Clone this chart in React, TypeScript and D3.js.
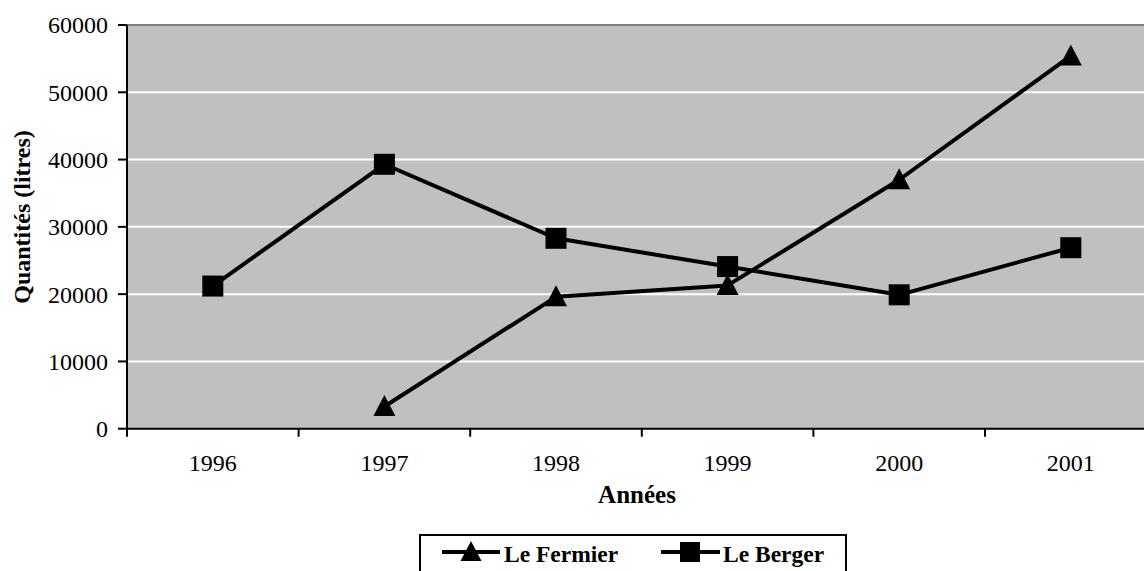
import React from "react";
import * as d3 from "d3";

const years = ["1996", "1997", "1998", "1999", "2000", "2001"];
const fermier: (number | null)[] = [null, 3300, 19600, 21300, 37000, 55400];
const berger: (number | null)[] = [21200, 39300, 28300, 24100, 19900, 26900];
const yTicks = [0, 10000, 20000, 30000, 40000, 50000, 60000];

const W = 1144;
const H = 571;
const left = 127;
const top = 25;
const bottom = 428.7;
const bandW = 171.6;
const right = left + bandW * years.length;
const FONT = '"Liberation Serif", "DejaVu Serif", "Times New Roman", serif';

export default function App() {
  const x = d3.scaleBand<string>().domain(years).range([left, right]).padding(0);
  const y = d3.scaleLinear().domain([0, 60000]).range([bottom, top]);
  const cx = (i: number) => (x(years[i]) as number) + x.bandwidth() / 2;

  const line = d3
    .line<number | null>()
    .defined((d) => d !== null)
    .x((_, i) => cx(i))
    .y((d) => y(d as number));

  const tri = (w: number, h: number) => `M0,${-h / 2 - 1}L${w / 2},${h / 2 - 1}L${-w / 2},${h / 2 - 1}Z`;
  const sq = (s: number) => `M${-s / 2},${-s / 2}h${s}v${s}h${-s}z`;
  const txt: React.CSSProperties = { fontFamily: FONT };

  return (
    <svg
      width={W}
      height={H}
      style={{ position: "absolute", left: 0, top: 0, display: "block", fontFamily: FONT }}
    >
      <rect x={0} y={0} width={W} height={H} fill="#fff" />
      <rect x={left} y={top} width={right - left} height={bottom - top} fill="#c0c0c0" />
      <line x1={left} x2={right} y1={top} y2={top} stroke="#808080" strokeWidth={2} />
      {yTicks.slice(1, -1).map((t) => (
        <line key={t} x1={left} x2={right} y1={y(t)} y2={y(t)} stroke="#fff" strokeWidth={2} />
      ))}
      {/* axes */}
      <line x1={left} x2={left} y1={top} y2={bottom} stroke="#000" strokeWidth={2} />
      <line x1={left - 1} x2={right} y1={bottom} y2={bottom} stroke="#000" strokeWidth={2} />
      {yTicks.map((t) => (
        <g key={t}>
          <line x1={left - 9} x2={left} y1={y(t)} y2={y(t)} stroke="#000" strokeWidth={2} />
          <text x={left - 19} y={y(t)} dy="0.35em" textAnchor="end" fontSize={24} fill="#000" style={txt}>
            {t}
          </text>
        </g>
      ))}
      {years.map((yr, i) => (
        <g key={yr}>
          <line
            x1={x(yr) as number}
            x2={x(yr) as number}
            y1={bottom}
            y2={bottom + 8}
            stroke="#000"
            strokeWidth={2}
          />
          <text x={cx(i)} y={471} textAnchor="middle" fontSize={24} fill="#000" style={txt}>
            {yr}
          </text>
        </g>
      ))}
      <text x={637} y={503} textAnchor="middle" fontSize={25} fontWeight="bold" fill="#000" style={txt}>
        Années
      </text>
      <text
        transform={`translate(30,217) rotate(-90)`}
        textAnchor="middle"
        fontSize={24}
        fontWeight="bold"
        fill="#000"
        style={txt}
      >
        Quantités (litres)
      </text>
      {/* series */}
      <path d={line(berger) || ""} fill="none" stroke="#000" strokeWidth={4} strokeLinejoin="round" />
      <path d={line(fermier) || ""} fill="none" stroke="#000" strokeWidth={4} strokeLinejoin="round" />
      {berger.map((v, i) =>
        v === null ? null : (
          <path key={"b" + i} d={sq(21)} transform={`translate(${cx(i)},${y(v)})`} fill="#000" />
        )
      )}
      {fermier.map((v, i) =>
        v === null ? null : (
          <path key={"f" + i} d={tri(22, 21)} transform={`translate(${cx(i)},${y(v)})`} fill="#000" />
        )
      )}
      {/* legend */}
      <rect x={420} y={535} width={426} height={50} fill="#fff" stroke="#000" strokeWidth={2} />
      <line x1={442} x2={500} y1={552} y2={552} stroke="#000" strokeWidth={4} />
      <path d={tri(21, 20)} transform={`translate(471,552)`} fill="#000" />
      <text x={504} y={562} fontSize={23.5} fontWeight="bold" fill="#000" style={txt}>
        Le Fermier
      </text>
      <line x1={661} x2={720} y1={552} y2={552} stroke="#000" strokeWidth={4} />
      <path d={sq(20)} transform={`translate(690,552)`} fill="#000" />
      <text x={723} y={562} fontSize={23.5} fontWeight="bold" fill="#000" style={txt}>
        Le Berger
      </text>
    </svg>
  );
}
